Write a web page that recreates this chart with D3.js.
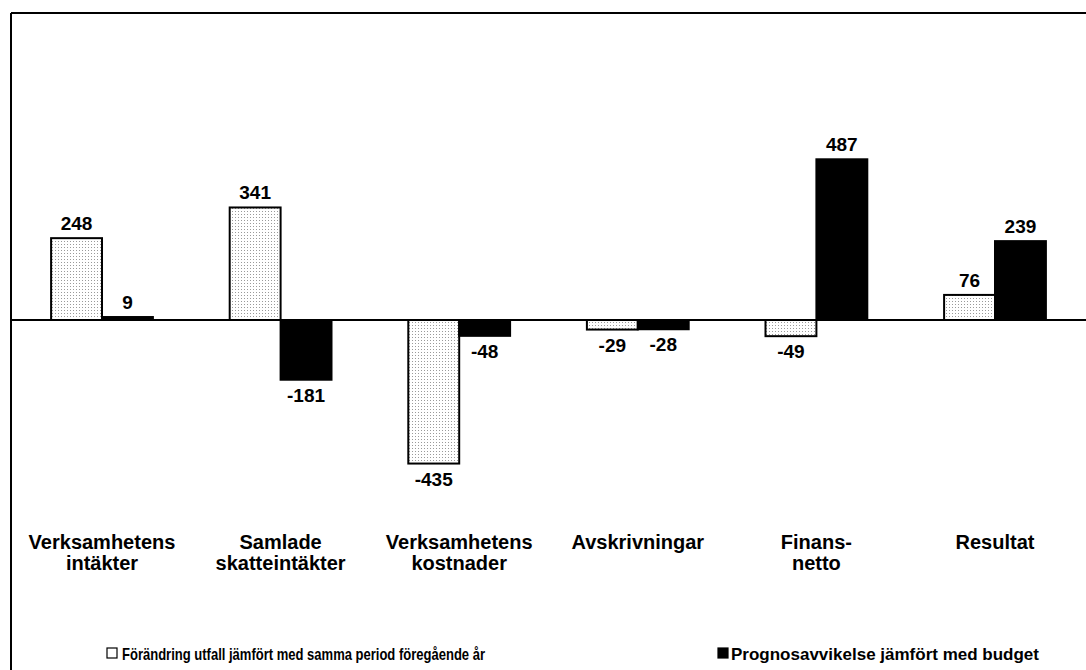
<!DOCTYPE html>
<html>
<head>
<meta charset="utf-8">
<script src="https://cdn.jsdelivr.net/npm/d3@7/dist/d3.min.js"></script>
<style>
  html, body { margin: 0; padding: 0; background: #fff; }
  svg { display: block; }
  text { font-family: "Liberation Sans", Arial, sans-serif; font-weight: bold; fill: #000; }
</style>
</head>
<body>
<svg id="chart" width="1086" height="670"></svg>
<script>
// ---- data ----
const categories = [
  ["Verksamhetens", "intäkter"],
  ["Samlade", "skatteintäkter"],
  ["Verksamhetens", "kostnader"],
  ["Avskrivningar"],
  ["Finans-", "netto"],
  ["Resultat"]
];
const seriesNames = [
  "Förändring utfall jämfört med samma period föregående år",
  "Prognosavvikelse jämfört med budget"
];
const changeVsPriorYear = [248, 341, -435, -29, -49, 76];
const forecastVsBudget = [9, -181, -48, -28, 487, 239];

// ---- layout ----
const svg = d3.select("#chart");
const W = 1086, H = 670;

const defs = svg.append("defs");
const pat = defs.append("pattern")
  .attr("id", "dots").attr("patternUnits", "userSpaceOnUse")
  .attr("width", 3).attr("height", 3);
pat.append("rect").attr("width", 3).attr("height", 3).attr("fill", "#fff");
pat.append("rect").attr("x", 1).attr("y", 1).attr("width", 1).attr("height", 1).attr("fill", "#9a9a9a");

const keys = categories.map((c, i) => "c" + i);
const x = d3.scaleBand().domain(keys).range([12.7, 1084.3]).paddingInner(0.43).paddingOuter(0.215);
const xs = d3.scaleBand().domain([0, 1]).range([0, x.bandwidth()]).padding(0);
const y = d3.scaleLinear().domain([-500, 500]).range([485, 155]);

// frame
svg.append("line").attr("x1", 11).attr("x2", 11).attr("y1", 13).attr("y2", H)
  .attr("stroke", "#000").attr("stroke-width", 2);
svg.append("line").attr("x1", 11).attr("x2", W).attr("y1", 13).attr("y2", 13)
  .attr("stroke", "#000").attr("stroke-width", 2);

const series = [changeVsPriorYear, forecastVsBudget];
const fills = ["url(#dots)", "#000"];

series.forEach((vals, s) => {
  const g = svg.append("g");
  g.selectAll("rect").data(vals).join("rect")
    .attr("x", (d, i) => x(keys[i]) + xs(s))
    .attr("width", xs.bandwidth())
    .attr("y", d => y(Math.max(0, d)))
    .attr("height", d => Math.abs(y(d) - y(0)))
    .attr("fill", fills[s])
    .attr("stroke", "#000").attr("stroke-width", 2);
  g.selectAll("text").data(vals).join("text")
    .attr("x", (d, i) => x(keys[i]) + xs(s) + xs.bandwidth() / 2)
    .attr("y", d => d >= 0 ? y(d) - 8 : y(d) + 22)
    .attr("text-anchor", "middle")
    .attr("font-size", 19)
    .text(d => d);
});

// zero line
svg.append("line").attr("x1", 11).attr("x2", W).attr("y1", y(0)).attr("y2", y(0))
  .attr("stroke", "#000").attr("stroke-width", 2);

// category labels
const cl = svg.append("g");
categories.forEach((lines, i) => {
  const t = cl.append("text")
    .attr("x", x(keys[i]) + x.bandwidth() / 2)
    .attr("y", 549)
    .attr("text-anchor", "middle")
    .attr("font-size", 20);
  lines.forEach((ln, j) => {
    t.append("tspan").attr("x", x(keys[i]) + x.bandwidth() / 2)
      .attr("dy", j === 0 ? 0 : 21).text(ln);
  });
});

// legend
const legendItems = [
  { name: seriesNames[0], box: 107, tx: 122, len: 363, fill: "#fff" },
  { name: seriesNames[1], box: 718, tx: 731, len: 308, fill: "#000" }
];
legendItems.forEach(it => {
  svg.append("rect").attr("x", it.box).attr("y", 648).attr("width", 10).attr("height", 10)
    .attr("fill", it.fill).attr("stroke", "#000").attr("stroke-width", 1.2);
  svg.append("text").attr("x", it.tx).attr("y", 660)
    .attr("font-size", 16.5)
    .attr("textLength", it.len).attr("lengthAdjust", "spacingAndGlyphs")
    .text(it.name);
});
</script>
</body>
</html>
